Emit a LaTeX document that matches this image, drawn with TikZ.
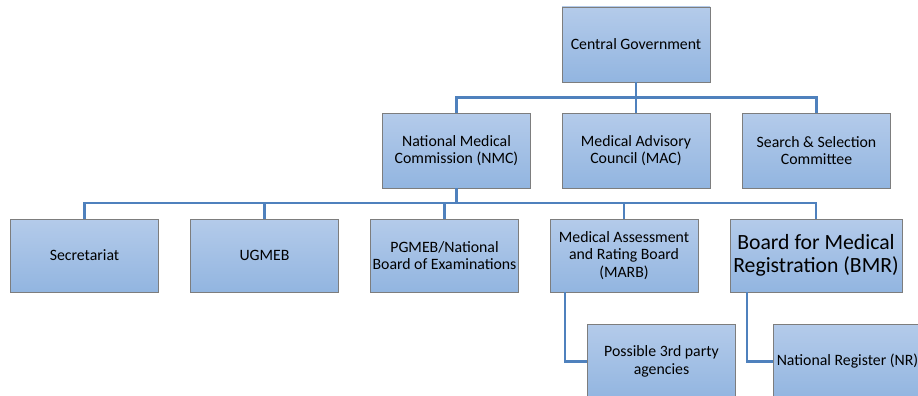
\documentclass[tikz,border=0pt]{standalone}
\usepackage{fontspec}
\setmainfont{Carlito}
\definecolor{boxtop}{RGB}{180,203,234}
\definecolor{boxbot}{RGB}{146,181,224}
\definecolor{boxedge}{RGB}{125,125,125}
\definecolor{connblue}{RGB}{79,129,189}
\begin{document}
\begin{tikzpicture}[x=1pt,y=-1pt,
  orgbox/.style={draw=boxedge,line width=0.9pt,top color=boxtop,bottom color=boxbot,
    minimum width=148pt,minimum height=75pt,align=center,inner sep=2pt,
    font=\fontsize{15.8}{17.4}\selectfont},
  lowbox/.style={orgbox,minimum height=73pt},
  conn/.style={draw=connblue,line width=2.6pt,line cap=butt,line join=miter}]
\useasboundingbox (0,0) rectangle (918,396);
\clip (0,0) rectangle (918,396);
% row 1
\node[orgbox] (cg) at (636,44.5) {Central Government};
% row 2
\node[orgbox] (nmc) at (456.5,150.5) {National Medical\\Commission (NMC)};
\node[orgbox] (mac) at (636,150.5) {Medical Advisory\\Council (MAC)};
\node[orgbox] (ssc) at (816.5,150.5) {Search \& Selection\\Committee};
% row 3
\node[lowbox] (sec) at (84.5,255.5) {Secretariat};
\node[lowbox] (ug) at (264.5,255.5) {UGMEB};
\node[lowbox] (pg) at (444.5,255.5) {PGMEB/National\\Board of Examinations};
\node[lowbox] (marb) at (624,255.5) {Medical Assessment\\and Rating Board\\(MARB)};
\node[lowbox,minimum width=172pt,font=\fontsize{21.7}{23.3}\selectfont] (bmr) at (816,255.5) {Board for Medical\\Registration (BMR)};
% row 4
\node[orgbox] (p3) at (661.5,361.5) {Possible 3rd party\\agencies};
\node[orgbox] (nr) at (847.5,361.5) {National Register (NR)};
% connectors level 1
\coordinate (j1) at (636,97.5);
\draw[conn] (cg.south) -- (j1);
\draw[conn] (nmc.north) |- (j1) -| (ssc.north);
\draw[conn] (mac.north) -- (mac.north |- j1);
% connectors level 2
\coordinate (j2) at (456.5,203);
\draw[conn] (nmc.south) -- (j2);
\draw[conn] (sec.north) |- (j2) -| (bmr.north);
\draw[conn] (ug.north) -- (ug.north |- j2);
\draw[conn] (pg.north) -- (pg.north |- j2);
\draw[conn] (marb.north) -- (marb.north |- j2);
% connectors level 3
\coordinate (m1) at (565,292);
\coordinate (b1) at (747,292);
\draw[conn] (m1) |- (p3.west);
\draw[conn] (b1) |- (nr.west);
% redraw boxes over connectors
\end{tikzpicture}
\end{document}
